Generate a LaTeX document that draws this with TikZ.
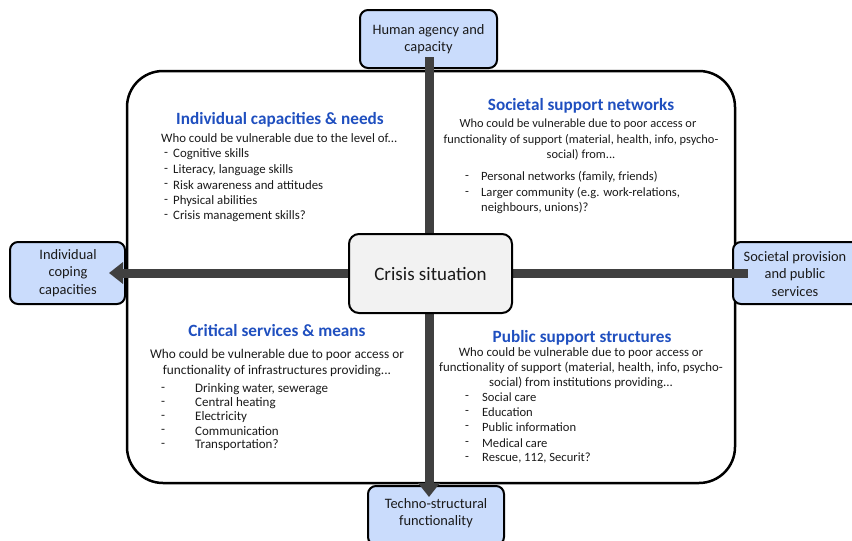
\documentclass[tikz,border=0pt]{standalone}
\usepackage{fontspec}
\setmainfont{Carlito}
\usetikzlibrary{arrows.meta}
\definecolor{boxblue}{HTML}{CADCFC}
\definecolor{titleblue}{HTML}{1F4FBF}
\definecolor{arrowgray}{HTML}{404040}
\definecolor{centergray}{HTML}{F2F2F2}
\definecolor{txt}{HTML}{1A1A1A}
\tikzset{
  sidebox/.style={draw=black, line width=2pt, rounded corners=8pt, fill=boxblue},
  sidelabel/.style={align=center, font=\fontsize{14.4}{17.3}\selectfont, text=txt, inner sep=0pt},
  bigarrow/.style={draw=arrowgray, line width=9pt, -{Triangle[width=21pt,length=14pt]}, {Triangle[width=21pt,length=14pt]}-},
  qtitle/.style={font=\fontsize{17.2}{19}\selectfont\bfseries, text=titleblue, inner sep=0pt},
  qc/.style={font=\fontsize{#1}{14}\selectfont, text=txt, inner sep=0pt},
  ql/.style={font=\fontsize{#1}{14}\selectfont, text=txt, inner sep=0pt, anchor=west},
}
\begin{document}
\begin{tikzpicture}[x=1pt,y=-1pt]
\useasboundingbox (0,0) rectangle (852,541);
% big frame
\draw[line width=2.5pt, rounded corners=36pt] (127,71) rectangle (735,483);
% side boxes
\draw[sidebox] (360,10) rectangle (497,68);
\node[sidelabel] (top) at (428.5,39) {Human agency and\\capacity};
\draw[sidebox] (368,486) rectangle (504,545);
\node[sidelabel] (bottom) at (436,513) {Techno-structural\\functionality};
\draw[sidebox] (10,242) rectangle (125,304);
\node[sidelabel] (left) at (68,273) {Individual\\coping\\capacities};
\draw[sidebox] (733,242) rectangle (870,304);
\node[sidelabel] (right) at (795,274) {Societal provision\\and public\\services};
% anchors for arrows
\coordinate (tt) at (429,57);
\coordinate (bt) at (429,497);
\coordinate (lt) at (109,273);
\coordinate (rt) at (748,273);
\draw[bigarrow] (bt) -- (tt);
\draw[bigarrow] (lt) -- (rt);
% center
\node[draw=black, line width=2pt, rounded corners=10pt, fill=centergray, minimum width=163pt, minimum height=79pt, font=\fontsize{19}{21}\selectfont, text=txt] (crisis) at (430.5,273.5) {Crisis situation};
% top-left quadrant
\node[qtitle] (t1) at (280,120) {Individual capacities \& needs};
\node[ql=12.8] (b1) at (161,138) {Who could be vulnerable due to the level of...};
\foreach \y/\t in {154/{Cognitive skills},170/{Literacy, language skills},185/{Risk awareness and attitudes},201/{Physical abilities},216/{Crisis management skills?}}{
  \node[ql=12.8] at (164,\y) {-};
  \node[ql=12.8] at (173,\y) {\t};
}
% top-right quadrant
\node[qtitle] (t2) at (581,106) {Societal support networks};
\node[qc=12.4] (b2a) at (578,124) {Who could be vulnerable due to poor access or};
\node[qc=12.4] (b2b) at (581,140) {functionality of support (material, health, info, psycho-};
\node[qc=12.4] (b2c) at (581,155) {social) from...};
\node[ql=12.6] at (465,177) {-};
\node[ql=12.6] at (481,177) {Personal networks (family, friends)};
\node[ql=12.6] at (465,193) {-};
\node[ql=12.6] at (481,193) {Larger community (e.g. work-relations,};
\node[ql=12.6] at (481,208) {neighbours, unions)?};
% bottom-left quadrant
\node[qtitle] (t3) at (277,331) {Critical services \& means};
\node[qc=13.3] (b3a) at (277,355) {Who could be vulnerable due to poor access or};
\node[qc=13.3] (b3b) at (277,371) {functionality of infrastructures providing...};
\foreach \y/\t in {389/{Drinking water, sewerage},403/{Central heating},417/{Electricity},431/{Communication},445/{Transportation?}}{
  \node[ql=13] at (161,\y) {-};
  \node[ql=13] at (195,\y) {\t};
}
% bottom-right quadrant
\node[qtitle] (t4) at (582,338) {Public support structures};
\node[qc=12.8] (b4a) at (581,353) {Who could be vulnerable due to poor access or};
\node[qc=12.8] (b4b) at (581,368) {functionality of support (material, health, info, psycho-};
\node[qc=12.8] (b4c) at (581,383) {social) from institutions providing...};
\foreach \y/\t in {397/{Social care},412/{Education},427/{Public information},443/{Medical care},458/{Rescue, 112, Securit?}}{
  \node[ql=12.6] at (465,\y) {-};
  \node[ql=12.6] at (482,\y) {\t};
}
\end{tikzpicture}
\end{document}
